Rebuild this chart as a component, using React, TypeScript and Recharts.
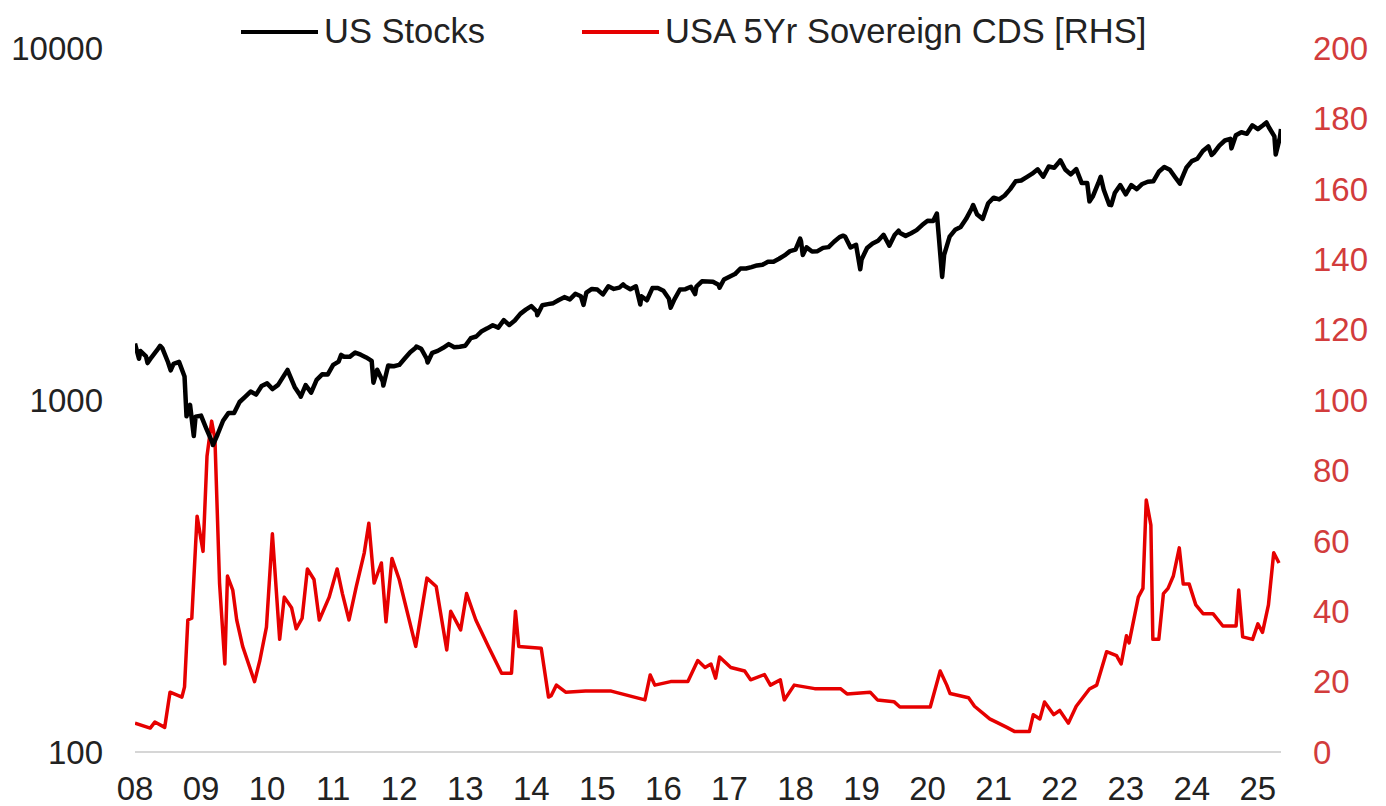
import { LineChart, Line, XAxis, YAxis } from "recharts";

const yearTicks = [
  2008, 2009, 2010, 2011, 2012, 2013, 2014, 2015, 2016, 2017, 2018, 2019, 2020,
  2021, 2022, 2023, 2024, 2025,
];
const leftTicks = [100, 1000, 10000];
const rightTicks = [0, 20, 40, 60, 80, 100, 120, 140, 160, 180, 200];

// US stocks, month-end levels, Jan 2008 .. Apr 2025
const stockMonthEnd = [
  1378, 1330, 1322, 1385, 1400, 1280, 1267, 1283, 1166, 969, 896, 903,
  826, 760, 798, 873, 919, 919, 987, 1021, 1057, 1036, 1096, 1115,
  1074, 1104, 1169, 1187, 1089, 1031, 1102, 1049, 1141, 1183, 1181, 1258,
  1286, 1327, 1326, 1364, 1345, 1321, 1292, 1219, 1131, 1253, 1247, 1258,
  1312, 1366, 1408, 1398, 1310, 1362, 1379, 1407, 1441, 1412, 1416, 1426,
  1498, 1515, 1569, 1598, 1631, 1606, 1686, 1633, 1682, 1757, 1806, 1848,
  1783, 1859, 1872, 1884, 1924, 1960, 1931, 2003, 1972, 2018, 2068, 2059,
  1995, 2105, 2068, 2086, 2107, 2063, 2104, 1972, 1920, 2079, 2080, 2044,
  1940, 1932, 2060, 2065, 2097, 2099, 2174, 2171, 2168, 2126, 2199, 2239,
  2279, 2364, 2363, 2384, 2412, 2423, 2470, 2472, 2519, 2575, 2648, 2674,
  2824, 2714, 2641, 2648, 2705, 2718, 2816, 2902, 2914, 2712, 2760, 2507,
  2704, 2784, 2834, 2946, 2752, 2942, 2980, 2926, 2977, 3038, 3141, 3231,
  3226, 2954, 2585, 2912, 3044, 3100, 3271, 3500, 3363, 3270, 3622, 3756,
  3714, 3811, 3973, 4181, 4204, 4298, 4395, 4523, 4308, 4605, 4567, 4766,
  4516, 4374, 4530, 4132, 4132, 3785, 4130, 3955, 3586, 3872, 4080, 3840,
  4077, 3970, 4109, 4169, 4180, 4450, 4589, 4508, 4288, 4194, 4568, 4770,
  4846, 5096, 5254, 5036, 5278, 5460, 5522, 5648, 5762, 5705, 6032, 5882,
  6041, 5955, 5612, 5569,
];

// intra-month highs and lows visible on the line
const stockExtraDates = [
  2008.0, 2008.06, 2008.19, 2008.38, 2008.54, 2008.78, 2008.89, 2009.18,
  2010.31, 2010.51, 2011.12, 2011.61, 2011.76, 2012.26, 2012.43, 2014.09,
  2014.79, 2015.39, 2015.65, 2016.11, 2016.48, 2016.85, 2018.07, 2018.11,
  2018.72, 2018.98, 2019.42, 2019.56, 2020.14, 2020.22, 2020.69, 2022.01,
  2022.45, 2022.62, 2022.78, 2023.82, 2024.3, 2024.6, 2025.13, 2025.27,
  2025.35,
];
const stockExtraValues = [
  1447, 1310, 1273, 1426, 1214, 899, 790, 745,
  1217, 1022, 1343, 1120, 1099, 1419, 1278, 1741,
  1862, 2130, 1867, 1829, 2000, 2085, 2873, 2581,
  2930, 2351, 2744, 3026, 3386, 2237, 3580, 4797,
  3667, 4305, 3577, 4117, 4967, 5186, 6144, 4982,
  5886,
];

// USA 5Yr sovereign CDS (bp)
const cdsDates = [
  2008.0, 2008.23, 2008.3, 2008.45, 2008.53, 2008.71, 2008.75, 2008.8, 2008.86,
  2008.94, 2009.03, 2009.09, 2009.16, 2009.21, 2009.28, 2009.36, 2009.4,
  2009.48, 2009.54, 2009.63, 2009.81, 2009.89, 2009.99, 2010.08, 2010.19,
  2010.26, 2010.37, 2010.44, 2010.53, 2010.61, 2010.71, 2010.79, 2010.94,
  2011.06, 2011.14, 2011.24, 2011.35, 2011.47, 2011.54, 2011.62, 2011.73,
  2011.8, 2011.89, 2012.0, 2012.25, 2012.42, 2012.56, 2012.72, 2012.78,
  2012.93, 2013.02, 2013.16, 2013.35, 2013.55, 2013.7, 2013.76, 2013.81,
  2014.15, 2014.26, 2014.3, 2014.38, 2014.52, 2014.82, 2015.21, 2015.72,
  2015.8, 2015.87, 2016.11, 2016.37, 2016.52, 2016.63, 2016.72, 2016.79,
  2016.85, 2017.02, 2017.23, 2017.32, 2017.53, 2017.62, 2017.77, 2017.83,
  2017.98, 2018.29, 2018.68, 2018.78, 2019.13, 2019.24, 2019.49, 2019.58,
  2020.04, 2020.19, 2020.29, 2020.34, 2020.62, 2020.71, 2020.94, 2021.2,
  2021.32, 2021.54, 2021.6, 2021.7, 2021.77, 2021.91, 2022.0, 2022.13,
  2022.25, 2022.45, 2022.56, 2022.71, 2022.86, 2022.93, 2023.01, 2023.05,
  2023.19, 2023.26, 2023.31, 2023.38, 2023.41, 2023.5, 2023.57, 2023.64,
  2023.72, 2023.81, 2023.87, 2023.96, 2024.06, 2024.17, 2024.32, 2024.47,
  2024.67, 2024.71, 2024.77, 2024.92, 2025.0, 2025.07, 2025.16, 2025.24,
  2025.32,
];
const cdsValues = [
  8.2, 6.8, 8.5, 7, 17, 15.6, 18.5, 37.5, 38,
  67, 57, 84, 94, 89, 48, 25, 50,
  46, 37.5, 30, 20, 26, 35.5, 62, 32,
  44, 41, 35, 38, 52, 49, 37.5, 44,
  52, 45, 37.5, 47, 56.5, 65, 48, 53.7,
  37, 55, 49, 30, 49.4, 47, 29, 40,
  34.7, 45, 37.5, 30, 22.4, 22.4, 40, 30,
  29.5, 15.6, 16, 19, 17, 17.3, 17.3, 14.8,
  21.9, 19, 20, 20, 26, 24, 25, 21,
  27, 24, 23, 20.5, 22, 19, 20.5, 14.8,
  19, 18, 18, 16.5, 17, 14.8, 14.3, 12.8,
  12.8, 23, 19, 16.6, 15.4, 13, 9.4, 7,
  5.8, 5.8, 10.6, 9.4, 14.2, 10.6, 11.8, 8.2,
  13, 17.9, 19, 28.5, 27.4, 25, 33, 31,
  44, 46.5, 71.6, 64.5, 32, 32, 45, 46.5,
  50, 58, 47.7, 47.7, 41.8, 39.3, 39.3, 35.8,
  35.8, 46, 32.7, 32, 36.4, 34, 41.8, 56.6,
  53.7,
];

const stockData = [
  ...stockMonthEnd.map((v, i) => ({ t: 2008 + (i + 1) / 12, v })),
  ...stockExtraDates.map((t, i) => ({ t, v: stockExtraValues[i] })),
].sort((a, b) => a.t - b.t);

const cdsData = cdsDates.map((t, i) => ({ t, c: cdsValues[i] }));

const FONT = "'Liberation Sans', Arial, sans-serif";
const RED = "#e60000";

function LegendItem({ left, color, label }: { left: number; color: string; label: string }) {
  return (
    <>
      <div style={{ position: "absolute", left, top: 30, width: 77, height: 4, background: color }} />
      <div
        style={{
          position: "absolute",
          left: left + 83,
          top: 14,
          fontSize: 34.5,
          lineHeight: "34px",
          color: "#222",
          whiteSpace: "nowrap",
        }}
      >
        {label}
      </div>
    </>
  );
}

export default function App() {
  return (
    <div style={{ position: "relative", width: 1386, height: 806, fontFamily: FONT, background: "#fff" }}>
      <style>{"body{margin:0}"}</style>
      <LineChart
        width={1386}
        height={806}
        margin={{ top: 48, right: 0, bottom: 0, left: 0 }}
        style={{ fontFamily: FONT }}
      >
        <XAxis
          dataKey="t"
          type="number"
          domain={[2008, 2025.35]}
          ticks={yearTicks}
          interval={0}
          allowDataOverflow
          height={54}
          tickSize={0}
          tickMargin={25}
          tickLine={false}
          axisLine={{ stroke: "#d6d6d6", strokeWidth: 2 }}
          tick={{ fontSize: 33, fill: "#222" }}
          tickFormatter={(v: number) => String(v % 100).padStart(2, "0")}
        />
        <YAxis
          yAxisId="left"
          scale="log"
          domain={[100, 10000]}
          ticks={leftTicks}
          interval={0}
          allowDataOverflow
          width={135}
          tickSize={0}
          tickMargin={32}
          axisLine={false}
          tickLine={false}
          tick={{ fontSize: 33, fill: "#222" }}
        />
        <YAxis
          yAxisId="right"
          orientation="right"
          domain={[0, 200]}
          ticks={rightTicks}
          interval={0}
          allowDataOverflow
          width={105}
          tickSize={0}
          tickMargin={32}
          axisLine={false}
          tickLine={false}
          tick={{ fontSize: 33, fill: "#d23c3c" }}
        />
        <Line
          yAxisId="right"
          data={cdsData}
          dataKey="c"
          type="linear"
          stroke={RED}
          strokeWidth={3.5}
          strokeLinejoin="round"
          dot={false}
          isAnimationActive={false}
        />
        <Line
          yAxisId="left"
          data={stockData}
          dataKey="v"
          type="linear"
          stroke="#000"
          strokeWidth={4.5}
          strokeLinejoin="round"
          dot={false}
          isAnimationActive={false}
        />
      </LineChart>
      <LegendItem left={241} color="#000" label="US Stocks" />
      <LegendItem left={582} color={RED} label="USA 5Yr Sovereign CDS [RHS]" />
    </div>
  );
}
